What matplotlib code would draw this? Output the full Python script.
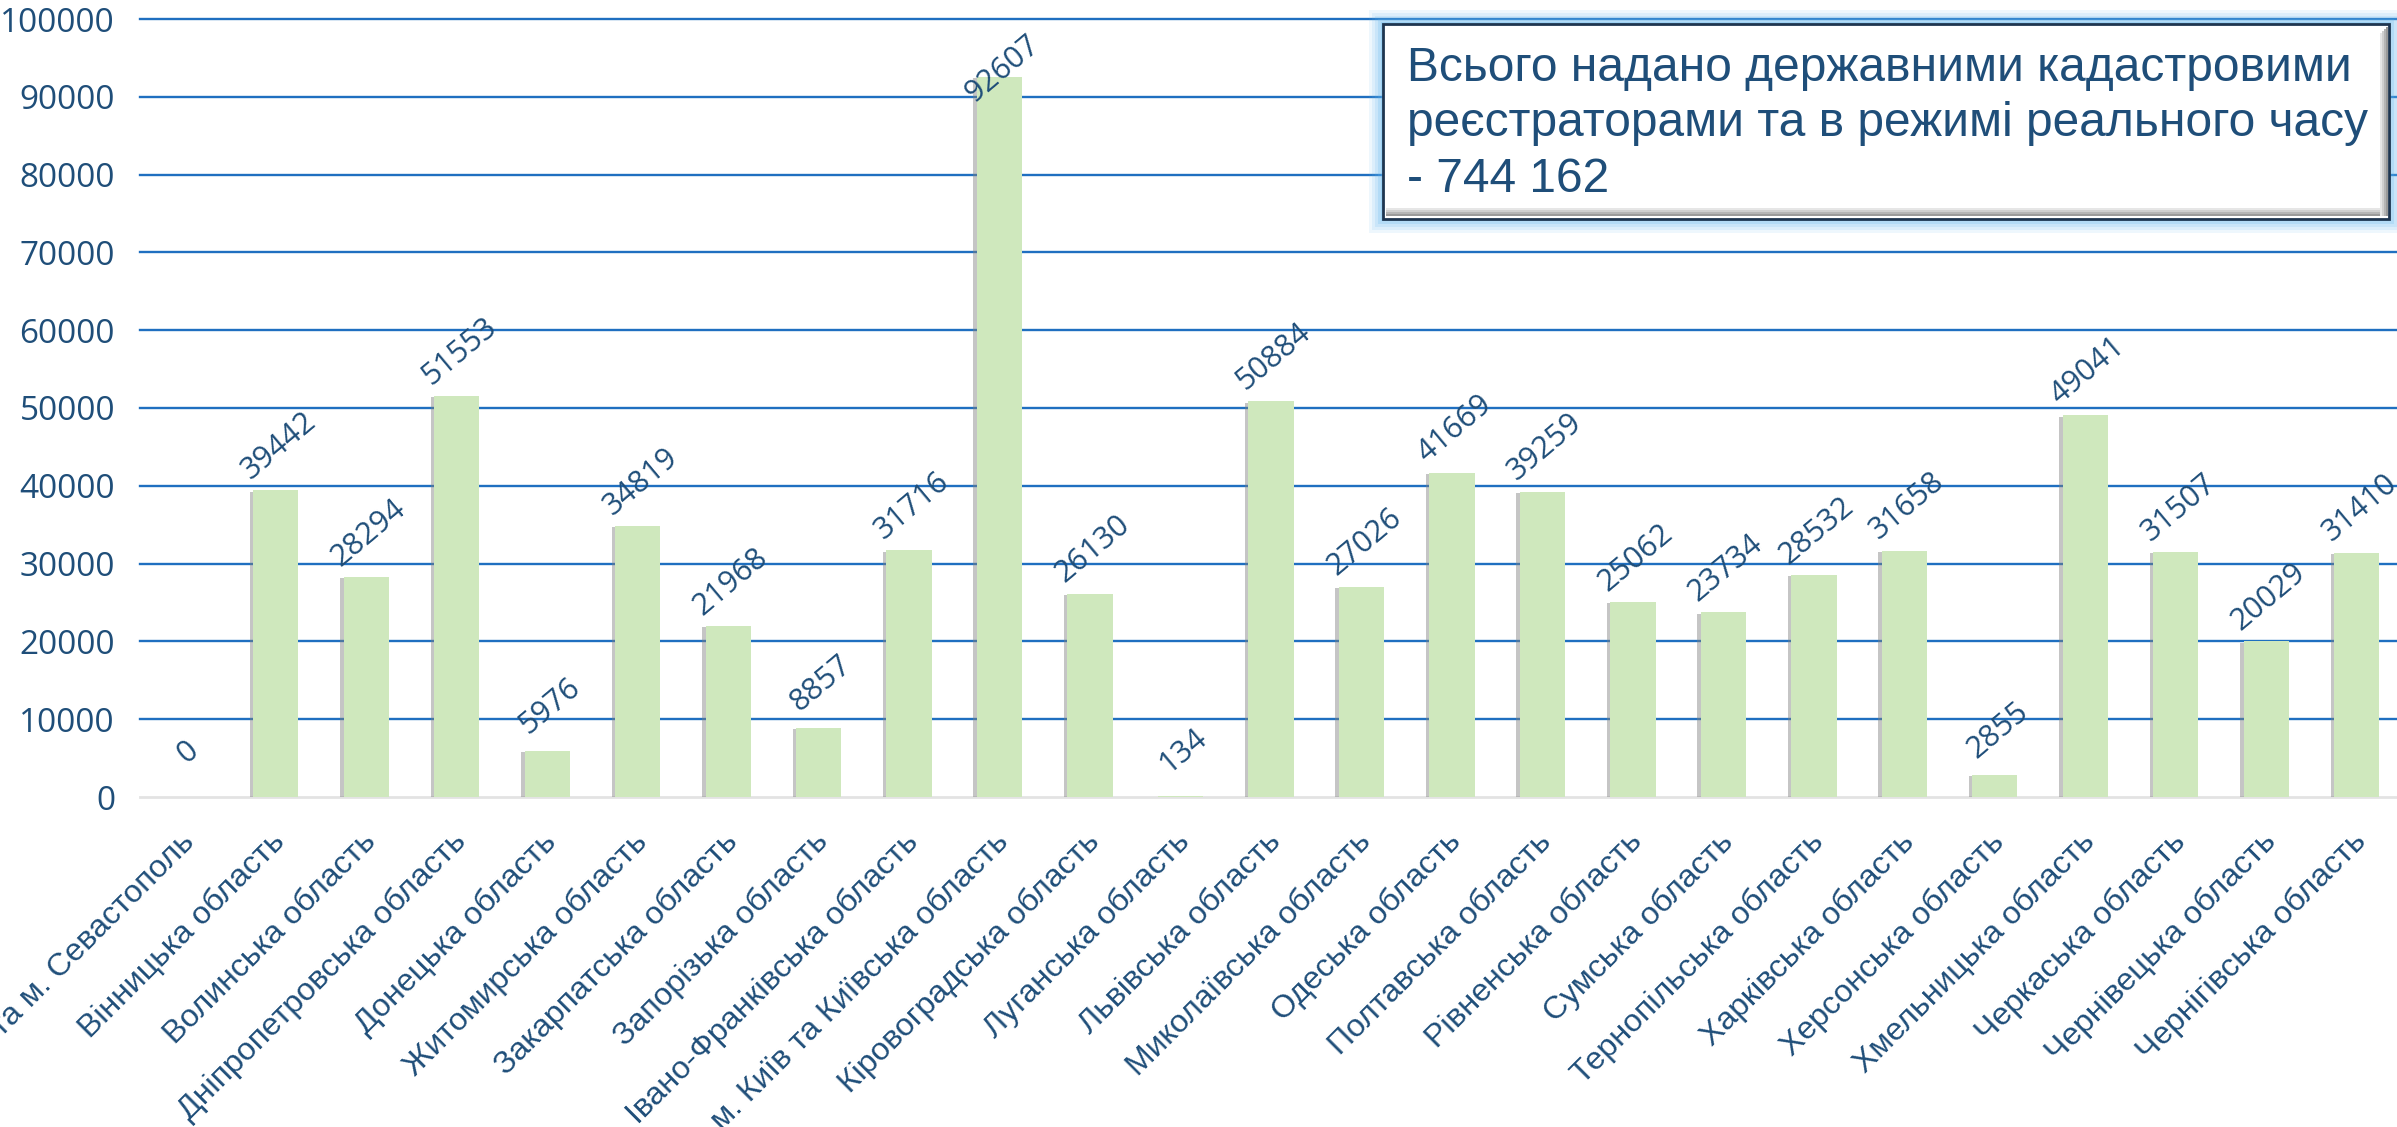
import matplotlib
matplotlib.use("Agg")
import matplotlib.pyplot as plt
import matplotlib.patheffects as pe
import matplotlib.transforms as mtransforms
from matplotlib.patches import Rectangle

# дані з діаграми
oblasti = ["АР Крим та м. Севастополь", "Вінницька область", "Волинська область",
           "Дніпропетровська область", "Донецька область", "Житомирська область",
           "Закарпатська область", "Запорізька область", "Івано-Франківська область",
           "м. Київ та Київська область", "Кіровоградська область", "Луганська область",
           "Львівська область", "Миколаївська область", "Одеська область",
           "Полтавська область", "Рівненська область", "Сумська область",
           "Тернопільська область", "Харківська область", "Херсонська область",
           "Хмельницька область", "Черкаська область", "Чернівецька область",
           "Чернігівська область"]
kilkist = [0, 39442, 28294, 51553, 5976, 34819, 21968, 8857, 31716, 92607, 26130, 134,
           50884, 27026, 41669, 39259, 25062, 23734, 28532, 31658, 2855, 49041, 31507,
           20029, 31410]
y_ticks = [0, 10000, 20000, 30000, 40000, 50000, 60000, 70000, 80000, 90000, 100000]
napys = "Всього надано державними кадастровими\nреєстраторами та в режимі реального часу\n- 744 162"

W, H = 2397, 1127
sinij = "#1f4e79"
fig = plt.figure(figsize=(W / 100, H / 100), dpi=100)
ax = fig.add_axes([140 / W, (H - 797) / H, 2262 / W, 778 / H])

x = list(range(len(oblasti)))
bars = ax.bar(x, kilkist, width=0.5, color="#cfe8bd", zorder=3)
for b in bars:
    b.set_path_effects([pe.SimplePatchShadow(offset=(-2.5, -1), shadow_rgbFace="#7f7f7f", alpha=0.45),
                        pe.Normal()])

ax.set_xlim(-0.5, len(oblasti) - 0.5)
ax.set_ylim(0, 100000)

# підписи значень; якщо стовпчик високий, підпис опускається до верху області
for xi, v in zip(x, kilkist):
    top_px = H - ax.transData.transform((xi, v))[1]
    dy = min(32, (top_px - 69) / 1.389)
    ax.annotate(str(v), (xi, v), xytext=(2, dy), textcoords="offset points",
                ha="center", va="center", rotation=40, fontsize=22,
                family="Open Sans", color=sinij, zorder=4)

ax.set_yticks(y_ticks)
ax.set_yticklabels([str(t) for t in y_ticks], family="Open Sans", fontsize=24, color=sinij)
ax.tick_params(axis="y", length=0, pad=18)
ax.set_xticks(x)
ax.set_xticklabels(oblasti, rotation=45, ha="right", va="center", rotation_mode="anchor",
                   family="Liberation Sans", fontsize=23, color=sinij)
ax.tick_params(axis="x", length=0, pad=29)
shift = mtransforms.ScaledTranslation(0.05, 0, fig.dpi_scale_trans)
for lab in ax.get_xticklabels():
    lab.set_transform(lab.get_transform() + shift)

ax.grid(axis="y", color="#1f6fc0", lw=1.7, zorder=0)
ax.set_axisbelow(True)
gl = ax.yaxis.get_gridlines()
gl[0].set_visible(False)
for g in gl:
    g.set_clip_on(False)
for s in ["top", "right", "left"]:
    ax.spines[s].set_visible(False)
ax.spines["bottom"].set_color("#e3e3e3")
ax.spines["bottom"].set_linewidth(2)

# рамка з підписом
bl, bt, br, bb = 1383, 24, 2389, 219
def fr(px, py):
    return px / W, 1 - py / H

for i, a in enumerate([0.10, 0.12, 0.15, 0.2, 0.25]):
    d = 14 - i * 3
    x0, y0 = fr(bl - d, bb + d)
    fig.patches.append(Rectangle((x0, y0), (br - bl + 2 * d) / W, (bb - bt + 2 * d) / H,
                                 transform=fig.transFigure, facecolor="#5fb4ee", alpha=a,
                                 edgecolor="none", zorder=5))
x0, y0 = fr(bl, bb)
fig.patches.append(Rectangle((x0, y0), (br - bl) / W, (bb - bt) / H, transform=fig.transFigure,
                             facecolor="white", edgecolor="#1e3550", lw=2, zorder=6))
# внутрішня тінь знизу і справа
for i, c in enumerate(["#9a9a9a", "#b5b5b5", "#cfcfcf", "#e6e6e6"]):
    xs, ys = fr(bl + 3, bb - 3 - i * 2)
    fig.patches.append(Rectangle((xs, ys), (br - bl - 6 - i * 2) / W, 2 / H,
                                 transform=fig.transFigure, facecolor=c, edgecolor="none", zorder=7))
    xs, ys = fr(br - 3 - i * 2, bb - 3)
    fig.patches.append(Rectangle((xs, ys), 2 / W, (bb - bt - 6 - i * 2) / H,
                                 transform=fig.transFigure, facecolor=c, edgecolor="none", zorder=7))

tx, ty = fr(bl + 24, bt + 22)
fig.text(tx, ty, napys, ha="left", va="top", family="Liberation Sans", fontsize=34.5,
         color=sinij, linespacing=1.3, zorder=8)

fig.savefig("out.png", dpi=100)
